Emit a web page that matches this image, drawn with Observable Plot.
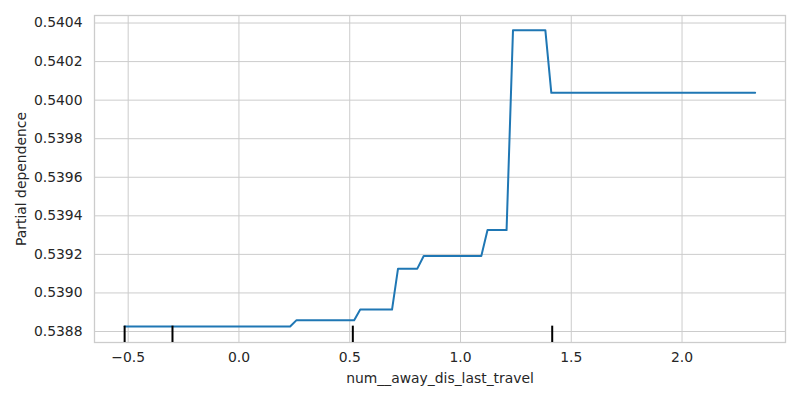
<!DOCTYPE html>
<html><head><meta charset="utf-8">
<script src="https://cdn.jsdelivr.net/npm/d3@7"></script>
<script src="https://cdn.jsdelivr.net/npm/@observablehq/plot@0.6"></script>
<style>body{margin:0;background:#fff}</style>
</head><body><div id="chart"></div>
<script>
// Partial dependence curve vertices (feature value, partial dependence)
const featureValues = [-0.516, 0.231, 0.260, 0.520, 0.5475, 0.691, 0.718, 0.805, 0.834, 1.094, 1.122, 1.208, 1.237, 1.383, 1.410, 2.330];
const pdValues = [0.538826, 0.538826, 0.538859, 0.538859, 0.538914, 0.538914, 0.539126, 0.539126, 0.539192, 0.539192, 0.539326, 0.539326, 0.540363, 0.540363, 0.540038, 0.540038];
// Decile rug marks
const rugValues = [-0.516, -0.30, 0.514, 1.414];
const xTicks = [-0.5, 0.0, 0.5, 1.0, 1.5, 2.0];
const yTicks = [0.5388, 0.5390, 0.5392, 0.5394, 0.5396, 0.5398, 0.5400, 0.5402, 0.5404];
const xDomain = [-0.652, 2.467];
const yDomain = [0.538743, 0.540439];

const data = featureValues.map((x, i) => ({x, y: pdValues[i]}));
const fmtX = d => (d < 0 ? "\u2212" : "") + Math.abs(d).toFixed(1);
const fmtY = d => d.toFixed(4);
const rugTop = yDomain[0] + 0.05 * (yDomain[1] - yDomain[0]);

const chart = Plot.plot({
  width: 800, height: 400,
  marginLeft: 94, marginRight: 15, marginTop: 15, marginBottom: 58,
  style: {fontFamily: "DejaVu Sans", fontSize: "13.9px", color: "#262626", background: "#fff"},
  x: {domain: xDomain},
  y: {domain: yDomain},
  marks: [
    Plot.gridX(xTicks, {stroke: "#cccccc", strokeOpacity: 1, strokeWidth: 1}),
    Plot.gridY(yTicks, {stroke: "#cccccc", strokeOpacity: 1, strokeWidth: 1}),
    Plot.frame({stroke: "#cccccc", strokeWidth: 1.3}),
    Plot.axisX(xTicks, {tickSize: 0, tickPadding: 10, tickFormat: fmtX, fill: "#262626",
      label: "num__away_dis_last_travel", labelAnchor: "center", labelArrow: "none", labelOffset: 40}),
    Plot.axisY(yTicks, {tickSize: 0, tickPadding: 12, tickFormat: fmtY, fill: "#262626",
      label: "Partial dependence", labelAnchor: "center", labelArrow: "none", labelOffset: 78}),
    Plot.line(data, {x: "x", y: "y", stroke: "#1f77b4", strokeWidth: 2}),
    Plot.ruleX(rugValues, {x: d => d, y1: yDomain[0], y2: rugTop, stroke: "black", strokeWidth: 2})
  ]
});
document.getElementById("chart").appendChild(chart);
</script>
</body></html>
